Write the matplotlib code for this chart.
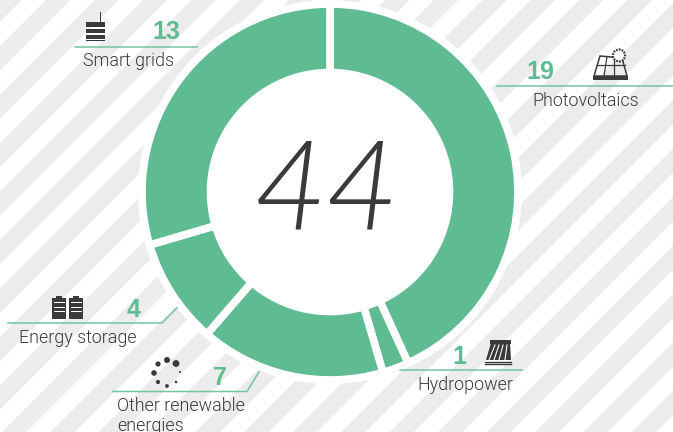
import numpy as np
import matplotlib
matplotlib.use('Agg')
import matplotlib.pyplot as plt
from matplotlib.patches import Circle, Rectangle, Polygon

categories = ['Photovoltaics', 'Hydropower', 'Other renewable\nenergies', 'Energy storage', 'Smart grids']
values = [19, 1, 7, 4, 13]
total = sum(values)

green = '#5fbb91'
line_green = '#74c4a0'
grey = '#ececec'
dark = '#3a3a3a'
W, H = 673, 432


def py(y):
    return H - y


fig = plt.figure(figsize=(W / 100, H / 100), dpi=100)
ax = fig.add_axes([0, 0, 1, 1])

# background stripes
period = 48.47
band = 24.3
for c in np.arange(143 - 3 * period, W + H + 100, period):
    pts = [(c, 0), (c + band, 0), (c + band - H - 20, H + 20), (c - H - 20, H + 20)]
    ax.add_patch(Polygon([(x, py(y)) for x, y in pts], fc=grey, ec='none', zorder=0))

ax.add_patch(Circle((330, py(192)), 191.5, fc='white', ec='none', zorder=1))

ax.pie(values, center=(330, py(192)), radius=188, startangle=90, counterclock=False,
       colors=[green], wedgeprops=dict(width=68.5, edgecolor='white', linewidth=5.5, zorder=2))
ax.set_xlim(0, W)
ax.set_ylim(0, H)
ax.set_aspect('auto')
ax.axis('off')

ax.text(326, py(194), str(total), fontsize=90, family='Lato', weight=300, style='italic',
        color=dark, ha='center', va='center', zorder=3)

# rule points, with slanted tail where there is one
rules = [
    [(75, 47), (197, 47)],
    [(497, 86), (673, 86)],
    [(400, 370), (522, 370)],
    [(8, 323), (162, 323), (177, 308)],
    [(113, 391.5), (247, 391.5), (259, 372)],
]
for r in rules:
    ax.plot([p[0] for p in r], [py(p[1]) for p in r], color=line_green, lw=1.1, zorder=3)

num_pos = [(540, 72), (459, 357), (220, 378), (134, 310), (166, 32)]
label_pos = [(532, 101), (417, 385), (117, 416), (19, 338), (83, 61)]
for v, cat, n, l in zip(values, categories, num_pos, label_pos):
    ax.text(n[0], py(n[1]), str(v), fontsize=18, family='Liberation Sans', weight='bold',
            color=green, ha='center', va='center', zorder=3)
    ax.text(l[0], py(l[1]), cat, fontsize=12.9, family='Roboto', weight=300, color=dark,
            ha='left', va='center', linespacing=1.18, zorder=3)


def box(x, y, w, h, c=dark):
    ax.add_patch(Rectangle((x, py(y + h)), w, h, fc=c, ec='none', zorder=4))


# smart grid icon
box(86, 22, 19, 5)
box(86, 28.5, 19, 4.5)
box(86, 34.5, 19, 4.5)
box(86, 40, 19, 1)
ax.plot([100, 100], [py(12), py(22)], color=dark, lw=0.7, zorder=4)

# batteries
for x0 in (52, 69):
    box(x0, 298, 14, 21)
    box(x0 + 4, 295.5, 6, 3)
    for yy in (302, 306.5, 311):
        box(x0 + 1.5, yy, 11, 1.2, 'white')

# dots
dot_xy = [(176, 363.5), (167, 360), (158, 364), (154, 373), (158, 382), (167, 386), (176, 382), (180, 372)]
dot_r = [3.4, 3.0, 2.6, 2.8, 2.1, 1.9, 1.3, 1.0]
for (x, y), r in zip(dot_xy, dot_r):
    ax.add_patch(Circle((x, py(y)), r, fc=dark, ec='none', zorder=4))

# dam
box(490, 340, 21, 3.5)
ax.add_patch(Polygon([(x, py(y)) for x, y in [(491, 343), (510, 343), (511, 360), (486, 360)]],
                     fc=dark, ec='none', zorder=4))
for xt, xb in [(495, 489), (499, 494), (503, 499), (507, 505)]:
    ax.plot([xt, xb], [py(345), py(360)], color='white', lw=0.8, zorder=5)
for yy in (361.5, 364):
    ax.plot([485, 511], [py(yy), py(yy)], color=dark, lw=1, zorder=4)

# solar panel
ax.add_patch(Polygon([(x, py(y)) for x, y in [(600, 56), (622, 58), (627, 76), (594, 76)]],
                     fc='none', ec=dark, lw=1.1, zorder=4))
for t, b in [(607, 604), (614, 614)]:
    ax.plot([t, b], [py(56.5), py(76)], color=dark, lw=0.9, zorder=5)
ax.plot([597, 625], [py(65), py(65)], color=dark, lw=0.9, zorder=5)
box(593, 76, 35, 3.5)
ax.add_patch(Circle((619, py(55.5)), 6, fc='white', ec=dark, lw=1.6, ls=(0, (0.8, 0.5)), zorder=6))

plt.savefig('out.png', dpi=100)
